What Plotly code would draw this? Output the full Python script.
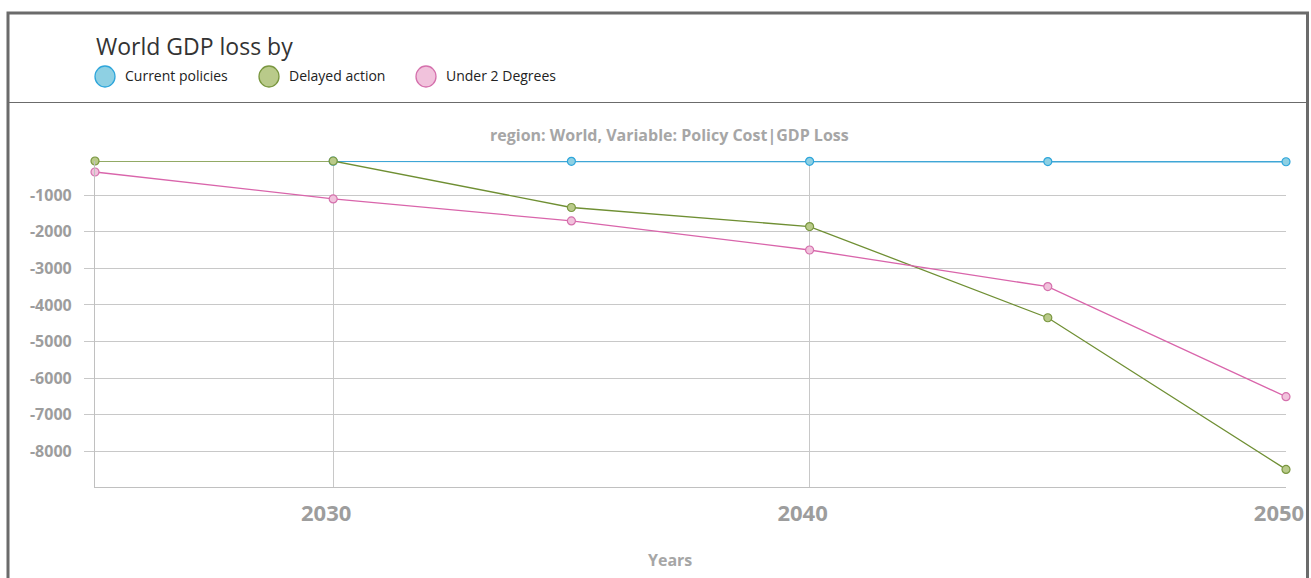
import plotly.graph_objects as go

# ---- data ----
years_cp = [2030, 2035, 2040, 2045, 2050]
current_policies = [-75, -78, -80, -85, -90]
years_all = [2025, 2030, 2035, 2040, 2045, 2050]
delayed_action = [-70, -70, -1340, -1860, -4350, -8490]
under_2_degrees = [-370, -1105, -1705, -2500, -3500, -6505]
y_tickvals = [-1000, -2000, -3000, -4000, -5000, -6000, -7000, -8000]
y_ticktext = ["-1000", "-2000", "-3000", "-4000", "-5000", "-6000", "-7000", "-8000"]
x_tickvals = [2030, 2040, 2050]
x_ticktext = ["2030", "2040", "2050"]

FONT = "Open Sans"
W, H = 1311, 578
L, R, T, B = 95, 25, 161, 91
PW, PH = W - L - R, H - T - B


def px(x):
    return (x - L) / PW


def py(y):
    return (H - B - y) / PH


series = [
    ("Current policies", years_cp, current_policies, "#3fa6d6", "#8ed0e3", "#2fa6db", 1.7),
    ("Delayed action", years_all, delayed_action, "#6f8f33", "#b9ca8a", "#7a9740", 1.3),
    ("Under 2 Degrees", years_all, under_2_degrees, "#d965ab", "#f1c2dc", "#d571ad", 1.3),
]

fig = go.Figure()
for name, xs, ys, lc, fc, ec, lw in series:
    fig.add_trace(go.Scatter(
        x=xs, y=ys, name=name, mode="lines+markers",
        line=dict(color=lc, width=lw),
        marker=dict(size=8, color=fc, line=dict(color=ec, width=1.2)),
        cliponaxis=False,
    ))

shapes = []
# outer frame
shapes.append(dict(type="rect", xref="paper", yref="paper",
                   x0=px(8), x1=px(1307.5), y0=py(13), y1=py(700),
                   line=dict(color="#6b6b6b", width=3), fillcolor="rgba(0,0,0,0)", layer="below"))
# header separator
shapes.append(dict(type="line", xref="paper", yref="paper",
                   x0=px(9), x1=px(1306), y0=py(102.5), y1=py(102.5),
                   line=dict(color="#6b6b6b", width=1.2)))

annotations = [
    dict(text="World GDP loss by", xref="paper", yref="paper", x=px(94), y=py(46),
         xanchor="left", yanchor="middle", showarrow=False,
         font=dict(family=FONT, size=23, color="#333333")),
    dict(text="<b>region: World, Variable: Policy Cost|GDP Loss</b>", xref="paper", yref="paper",
         x=px(669), y=py(135), xanchor="center", yanchor="middle", showarrow=False,
         font=dict(family=FONT, size=16, color="#a6a6a6")),
    dict(text="<b>Years</b>", xref="paper", yref="paper",
         x=px(670), y=py(560), xanchor="center", yanchor="middle", showarrow=False,
         font=dict(family=FONT, size=16, color="#a6a6a6")),
]

# legend (drawn manually)
leg_items = [(105, 123), (269, 287), (426, 444)]
for (cx, tx), (name, xs, ys, lc, fc, ec, lw) in zip(leg_items, series):
    shapes.append(dict(type="circle", xref="paper", yref="paper",
                       x0=px(cx - 10), x1=px(cx + 10), y0=py(76.5 - 10.5), y1=py(76.5 + 10.5),
                       fillcolor=fc, line=dict(color=ec, width=1.3)))
    annotations.append(dict(text=name, xref="paper", yref="paper", x=px(tx), y=py(76),
                            xanchor="left", yanchor="middle", showarrow=False,
                            font=dict(family=FONT, size=14, color="#222222")))

fig.update_layout(
    width=W, height=H,
    margin=dict(l=L, r=R, t=T, b=B, pad=0, autoexpand=False),
    paper_bgcolor="white", plot_bgcolor="white",
    showlegend=False,
    shapes=shapes, annotations=annotations,
    xaxis=dict(
        range=[2025, 2050], tickvals=x_tickvals, ticktext=x_ticktext,
        automargin=False, ticklabeloverflow="allow",
        showgrid=True, gridcolor="#c8c8c8", gridwidth=1,
        showline=True, linecolor="#c0c0c0", linewidth=1.2,
        ticks="outside", ticklen=6, tickcolor="rgba(0,0,0,0)",
        tickfont=dict(family=FONT, size=22, color="#9d9d9d", weight="bold"),
        ticklabelshift=-7,
        zeroline=False,
    ),
    yaxis=dict(
        range=[-8971, -70], tickvals=y_tickvals, ticktext=y_ticktext,
        automargin=False,
        showgrid=True, gridcolor="#c8c8c8", gridwidth=1.3,
        showline=True, linecolor="#c0c0c0", linewidth=1.2,
        ticks="outside", ticklen=10, tickcolor="#c8c8c8",
        tickfont=dict(family=FONT, size=16, color="#9d9d9d", weight="bold"),
        ticklabelstandoff=9,
        zeroline=False,
    ),
)

fig.write_html("out.html")
